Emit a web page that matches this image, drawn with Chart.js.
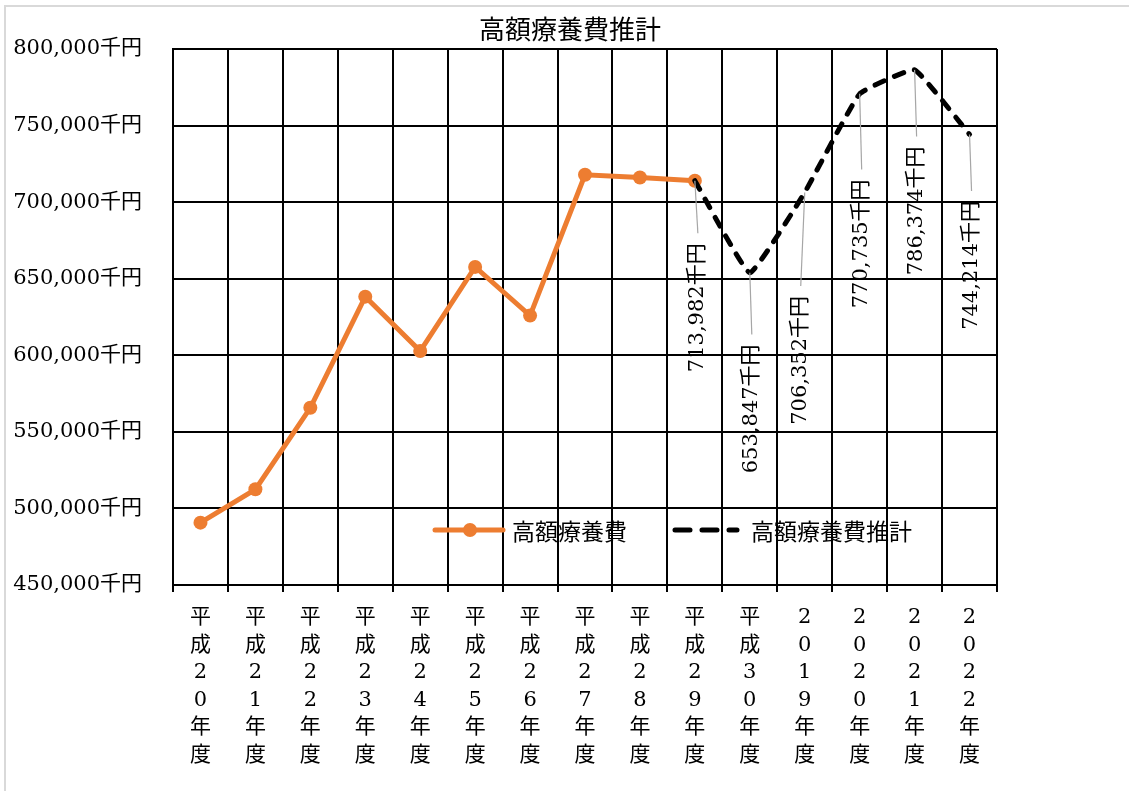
<!DOCTYPE html>
<html>
<head>
<meta charset="utf-8">
<script src="https://cdn.jsdelivr.net/npm/chart.js@4/dist/chart.umd.min.js"></script>
<style>
  html, body { margin: 0; padding: 0; background: #fff; overflow: hidden; }
  #frame { position: absolute; left: 4px; top: 5px; width: 1300px; height: 1000px;
           border: 2px solid #d9d9d9; box-sizing: border-box; }
  #wrap { position: absolute; left: 0; top: 0; width: 1129px; height: 791px; }
</style>
</head>
<body>
<div id="frame"></div>
<div id="wrap"><canvas id="c" width="1129" height="791"></canvas></div>
<script>
// 年度（カテゴリ）
const fiscalYears = [
  '平成20年度', '平成21年度', '平成22年度', '平成23年度', '平成24年度',
  '平成25年度', '平成26年度', '平成27年度', '平成28年度', '平成29年度',
  '平成30年度', '2019年度', '2020年度', '2021年度', '2022年度'
];

// 高額療養費（実績, 千円）
const actualCost = [
  490700, 512500, 565700, 638300, 602800,
  657700, 625900, 717900, 716100, 713982,
  null, null, null, null, null
];

// 高額療養費推計（千円）
const estimatedCost = [
  null, null, null, null, null,
  null, null, null, null, 713982,
  653847, 706352, 770735, 786374, 744214
];

// 縦軸の範囲（千円）
const yMin = 450000;
const yMax = 800000;
const yStep = 50000;

const chartTitle = '高額療養費推計';
const seriesNames = ['高額療養費', '高額療養費推計'];

const ORANGE = '#ED7D31';
const NUM_FONT = '"DejaVu Serif", "Noto Sans CJK JP", serif';
const JP_FONT = '"Noto Sans CJK JP", sans-serif';

const yen = v => v.toLocaleString('en-US') + '千円';

// 推計値ラベルの配置（点からのずらし量, px）
const labelPlacement = {
  9:  { dx: 3,  dy: 127 },
  10: { dx: 2,  dy: 136 },
  11: { dx: -4, dy: 168 },
  12: { dx: 2,  dy: 150 },
  13: { dx: 2,  dy: 141 },
  14: { dx: 2,  dy: 131 }
};

// 推計値のラベル（縦書き）と引き出し線
const estimateLabels = {
  id: 'estimateLabels',
  afterDatasetsDraw(chart) {
    const meta = chart.getDatasetMeta(1);
    const ctx = chart.ctx;
    ctx.save();
    ctx.font = '21px ' + NUM_FONT;
    meta.data.forEach((pt, i) => {
      const v = estimatedCost[i];
      const place = labelPlacement[i];
      if (v == null || !place) return;
      const text = yen(v);
      const w = ctx.measureText(text).width;
      const cx = pt.x + place.dx;
      const cy = pt.y + place.dy;
      ctx.strokeStyle = '#a6a6a6';
      ctx.lineWidth = 1.2;
      ctx.beginPath();
      ctx.moveTo(pt.x, pt.y);
      ctx.lineTo(cx, cy - w / 2 - 10);
      ctx.stroke();
      ctx.save();
      ctx.translate(cx, cy);
      ctx.rotate(-Math.PI / 2);
      ctx.fillStyle = '#000';
      ctx.textAlign = 'center';
      ctx.textBaseline = 'middle';
      ctx.fillText(text, 0, 0);
      ctx.restore();
    });
    ctx.restore();
  }
};

// タイトルと凡例
const titleAndLegend = {
  id: 'titleAndLegend',
  afterDraw(chart) {
    const ctx = chart.ctx;
    const area = chart.chartArea;
    ctx.save();
    ctx.fillStyle = '#000';
    ctx.font = '26px ' + JP_FONT;
    ctx.textAlign = 'center';
    ctx.textBaseline = 'middle';
    ctx.fillText(chartTitle, 570, 29);

    // 凡例（プロット内下部）
    const ly = area.bottom - 55;
    let x = area.left + 262;
    ctx.font = '23px ' + JP_FONT;
    ctx.textAlign = 'left';

    ctx.strokeStyle = ORANGE;
    ctx.lineWidth = 5;
    ctx.lineCap = 'round';
    ctx.beginPath();
    ctx.moveTo(x, ly);
    ctx.lineTo(x + 68, ly);
    ctx.stroke();
    ctx.fillStyle = ORANGE;
    ctx.beginPath();
    ctx.arc(x + 35, ly, 7, 0, Math.PI * 2);
    ctx.fill();
    ctx.fillStyle = '#000';
    ctx.fillText(seriesNames[0], x + 77, ly + 1);

    x = area.left + 502;
    ctx.strokeStyle = '#000';
    ctx.setLineDash([15, 12]);
    ctx.beginPath();
    ctx.moveTo(x, ly);
    ctx.lineTo(x + 62, ly);
    ctx.stroke();
    ctx.setLineDash([]);
    ctx.fillText(seriesNames[1], x + 76, ly + 1);
    ctx.restore();
  }
};

new Chart(document.getElementById('c'), {
  type: 'line',
  data: {
    labels: fiscalYears.map(s => Array.from(s)),
    datasets: [
      {
        label: seriesNames[0],
        data: actualCost,
        borderColor: ORANGE,
        backgroundColor: ORANGE,
        borderWidth: 5,
        pointRadius: 7,
        pointBackgroundColor: ORANGE,
        pointBorderWidth: 0,
        tension: 0,
        order: 1
      },
      {
        label: seriesNames[1],
        data: estimatedCost,
        borderColor: '#000',
        borderWidth: 5,
        borderDash: [10, 11],
        borderCapStyle: 'round',
        pointRadius: 0,
        tension: 0.1,
        order: 0
      }
    ]
  },
  options: {
    responsive: false,
    animation: false,
    layout: { padding: { top: 49, right: 132, bottom: 0, left: 0 } },
    plugins: {
      legend: { display: false },
      title: { display: false },
      tooltip: { enabled: false }
    },
    scales: {
      x: {
        type: 'category',
        offset: true,
        grid: { offset: true, color: '#000', lineWidth: 2, drawTicks: true, tickLength: 7, tickColor: '#000' },
        border: { color: '#000', width: 2 },
        ticks: {
          autoSkip: false, maxRotation: 0, minRotation: 0,
          padding: 12, color: '#000',
          font: { family: NUM_FONT, size: 21, lineHeight: 1.31 }
        },
        afterFit(scale) { scale.height = 206; }
      },
      y: {
        min: yMin, max: yMax,
        grid: { color: '#000', lineWidth: 2, drawTicks: false },
        border: { color: '#000', width: 2 },
        ticks: {
          stepSize: yStep, padding: 31, color: '#000',
          font: { family: NUM_FONT, size: 21 },
          callback: v => yen(v)
        },
        afterFit(scale) { scale.width = 173; }
      }
    }
  },
  plugins: [estimateLabels, titleAndLegend]
});
</script>
</body>
</html>
